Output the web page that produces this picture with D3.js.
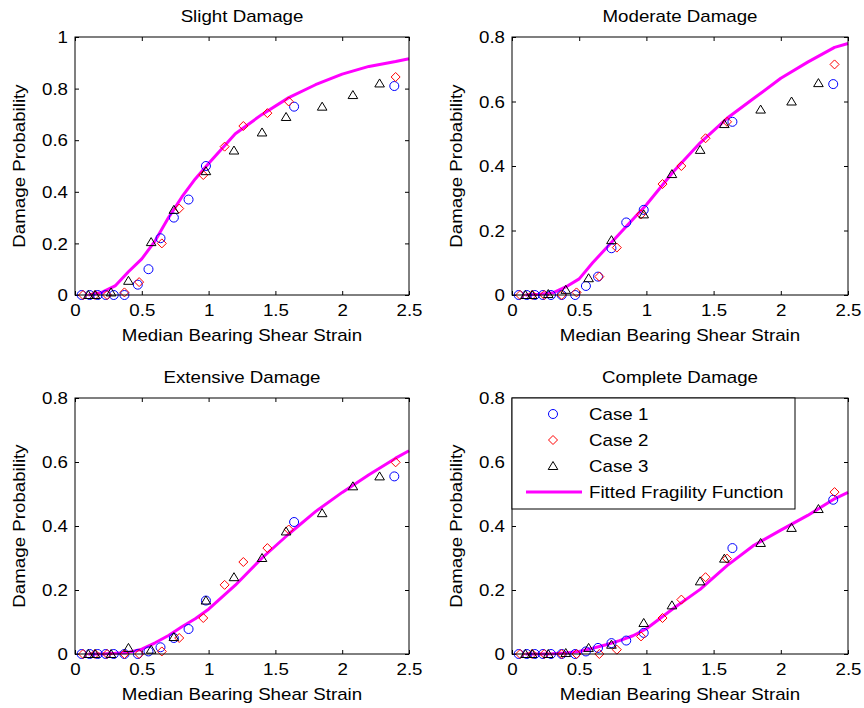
<!DOCTYPE html>
<html><head><meta charset="utf-8">
<script src="https://cdn.jsdelivr.net/npm/d3@7"></script>
<style>body{margin:0;background:#fff}svg text{font-family:"Liberation Sans",Arial,sans-serif;fill:#000}</style>
</head><body><svg id="c" width="864" height="708"></svg>
<script>
// ---- data ----
const panelTitles = ["Slight Damage","Moderate Damage","Extensive Damage","Complete Damage"];
const yMax = [1, 0.8, 0.8, 0.8];
const xTicks = [0, 0.5, 1, 1.5, 2, 2.5];
const yTicksA = [0, 0.2, 0.4, 0.6, 0.8, 1];
const yTicksB = [0, 0.2, 0.4, 0.6, 0.8];
const seriesNames = ["Case 1","Case 2","Case 3","Fitted Fragility Function"];

const case1X = [0.05,0.11,0.17,0.23,0.29,0.37,0.47,0.55,0.64,0.74,0.85,0.98,1.64,2.39];
const case2X = [0.06,0.15,0.24,0.37,0.48,0.65,0.78,0.96,1.12,1.26,1.44,1.6,2.4];
const case3X = [0.1,0.15,0.27,0.40,0.57,0.74,0.98,1.19,1.40,1.58,1.85,2.08,2.28];
const curveX = [0.1,0.2,0.3,0.4,0.5,0.6,0.7,0.8,0.9,1.0,1.2,1.4,1.6,1.8,2.0,2.2,2.4,2.5];

const slightCase1 = [0,0,0,0,0,0,0.04,0.10,0.22,0.30,0.37,0.50,0.73,0.81];
const slightCase2 = [0,0,0,0.01,0.05,0.20,0.335,0.465,0.575,0.655,0.705,0.75,0.845];
const slightCase3 = [0,0,0.01,0.055,0.205,0.33,0.48,0.56,0.63,0.69,0.73,0.775,0.82];
const slightFit = [0,0.01,0.035,0.09,0.14,0.21,0.30,0.38,0.45,0.51,0.625,0.70,0.765,0.815,0.856,0.886,0.905,0.916];

const moderateCase1 = [0,0,0,0,0,0,0,0.028,0.057,0.145,0.225,0.264,0.537,0.654];
const moderateCase2 = [0,0,0,0,0.008,0.057,0.147,0.25,0.344,0.40,0.486,0.537,0.715];
const moderateCase3 = [0,0,0.003,0.016,0.052,0.17,0.25,0.375,0.45,0.53,0.575,0.60,0.657];
const moderateFit = [0,0.002,0.006,0.025,0.05,0.10,0.145,0.19,0.235,0.28,0.382,0.472,0.548,0.61,0.672,0.722,0.768,0.78];

const extensiveCase1 = [0,0,0,0,0,0,0,0.008,0.021,0.05,0.078,0.167,0.4125,0.555];
const extensiveCase2 = [0,0,0,0,0,0.008,0.05,0.1125,0.216,0.2875,0.331,0.389,0.599];
const extensiveCase3 = [0,0,0,0.019,0.0135,0.053,0.167,0.24,0.30,0.383,0.44,0.524,0.555];
const extensiveFit = [0,0,0.002,0.005,0.015,0.035,0.058,0.085,0.11,0.14,0.215,0.30,0.375,0.445,0.505,0.56,0.612,0.635];

const completeCase1 = [0,0,0,0,0,0,0,0.008,0.019,0.034,0.042,0.066,0.331,0.482];
const completeCase2 = [0,0,0,0,0,0,0.0135,0.055,0.1125,0.17,0.24,0.298,0.506];
const completeCase3 = [0,0,0,0.003,0.019,0.029,0.097,0.152,0.227,0.298,0.347,0.394,0.453];
const completeFit = [0,0,0.001,0.003,0.008,0.018,0.029,0.042,0.057,0.079,0.142,0.202,0.276,0.34,0.387,0.433,0.485,0.505];

const panelData = [
  [slightCase1, slightCase2, slightCase3, slightFit],
  [moderateCase1, moderateCase2, moderateCase3, moderateFit],
  [extensiveCase1, extensiveCase2, extensiveCase3, extensiveFit],
  [completeCase1, completeCase2, completeCase3, completeFit]
];

// ---- layout ----
const boxes = [
  {x0:75, x1:409, y0:37, y1:295},
  {x0:512, x1:848, y0:37, y1:295},
  {x0:75, x1:409, y0:398, y1:654},
  {x0:512, x1:848, y0:398, y1:654}
];
const FS = 16;
const SX = 1.17;
const svg = d3.select("#c");
const fmt = d => String(d);

function label(parent, tx, ty, str, anchor, rot) {
  return parent.append("text")
    .attr("transform", `translate(${tx},${ty})${rot ? " rotate(" + rot + ")" : ""} scale(${SX},1)`)
    .attr("text-anchor", anchor).attr("font-size", FS).text(str);
}

boxes.forEach((b, i) => {
  const x = d3.scaleLinear().domain([0, 2.5]).range([b.x0, b.x1]);
  const y = d3.scaleLinear().domain([0, yMax[i]]).range([b.y1, b.y0]);
  const g = svg.append("g");
  const yt = yMax[i] === 1 ? yTicksA : yTicksB;
  const tl = 4;

  const ax = [
    d3.axisBottom(x).tickValues(xTicks).tickSize(-tl).tickFormat(fmt),
    d3.axisTop(x).tickValues(xTicks).tickSize(-tl).tickFormat(""),
    d3.axisLeft(y).tickValues(yt).tickSize(-tl).tickFormat(fmt),
    d3.axisRight(y).tickValues(yt).tickSize(-tl).tickFormat("")
  ];
  const tr = [`translate(0,${b.y1})`, `translate(0,${b.y0})`, `translate(${b.x0},0)`, `translate(${b.x1},0)`];
  ax.forEach((a, k) => {
    const ag = g.append("g").attr("transform", tr[k]).call(a);
    ag.select(".domain").remove();
    ag.selectAll("line").attr("stroke", "#000").attr("stroke-width", 1);
    ag.selectAll("text").attr("font-size", FS).attr("font-family", '"Liberation Sans",Arial,sans-serif').attr("fill", "#000");
    if (k === 0) ag.selectAll("text").attr("dy", null).attr("y", 21).attr("transform", `scale(${SX},1)`);
    if (k === 2) ag.selectAll("text").attr("x", -7 / SX).attr("dy", "0.35em").attr("transform", `scale(${SX},1)`);
  });

  const d = panelData[i];
  const line = d3.line().x((v, j) => x(curveX[j])).y(v => y(v));
  g.append("path").attr("d", line(d[3])).attr("fill", "none")
    .attr("stroke", "#ff00ff").attr("stroke-width", 3).attr("stroke-linejoin", "round");

  const pts = (xs, ys) => xs.map((v, j) => [x(v), y(ys[j])]);
  g.selectAll(null).data(pts(case1X, d[0])).enter().append("circle")
    .attr("cx", p => p[0]).attr("cy", p => p[1]).attr("r", 4.5)
    .attr("fill", "none").attr("stroke", "#0000ff").attr("stroke-width", 1);
  g.selectAll(null).data(pts(case2X, d[1])).enter().append("path")
    .attr("d", p => `M${p[0]},${p[1]-4.5}L${p[0]+4.5},${p[1]}L${p[0]},${p[1]+4.5}L${p[0]-4.5},${p[1]}Z`)
    .attr("fill", "none").attr("stroke", "#ff0000").attr("stroke-width", 1);
  g.selectAll(null).data(pts(case3X, d[2])).enter().append("path")
    .attr("d", p => `M${p[0]},${p[1]-4.5}L${p[0]+4.8},${p[1]+3.5}L${p[0]-4.8},${p[1]+3.5}Z`)
    .attr("fill", "none").attr("stroke", "#000").attr("stroke-width", 1);

  g.append("rect").attr("x", b.x0).attr("y", b.y0).attr("width", b.x1 - b.x0).attr("height", b.y1 - b.y0)
    .attr("fill", "none").attr("stroke", "#000").attr("stroke-width", 1);

  const cx = (b.x0 + b.x1) / 2, cy = (b.y0 + b.y1) / 2;
  label(g, cx, b.y0 - 15, panelTitles[i], "middle");
  label(g, cx, b.y1 + 46, "Median Bearing Shear Strain", "middle");
  label(g, b.x0 - 50, cy, "Damage Probability", "middle", -90);

  if (i === 3) {
    const lg = svg.append("g");
    lg.append("rect").attr("x", b.x0).attr("y", b.y0).attr("width", 283).attr("height", 111)
      .attr("fill", "#fff").attr("stroke", "#000").attr("stroke-width", 1);
    const ly = [414, 440, 466, 492];
    const mx = 553;
    lg.append("circle").attr("cx", mx).attr("cy", ly[0]).attr("r", 4.5).attr("fill", "none").attr("stroke", "#0000ff");
    lg.append("path").attr("d", `M${mx},${ly[1]-4.5}L${mx+4.5},${ly[1]}L${mx},${ly[1]+4.5}L${mx-4.5},${ly[1]}Z`).attr("fill", "none").attr("stroke", "#ff0000");
    lg.append("path").attr("d", `M${mx},${ly[2]-4.5}L${mx+4.8},${ly[2]+3.5}L${mx-4.8},${ly[2]+3.5}Z`).attr("fill", "none").attr("stroke", "#000");
    lg.append("line").attr("x1", 526).attr("x2", 582).attr("y1", ly[3]).attr("y2", ly[3]).attr("stroke", "#ff00ff").attr("stroke-width", 3);
    seriesNames.forEach((n, k) => {
      label(lg, 589, ly[k] + 6, n, "start");
    });
  }
});
</script></body></html>
